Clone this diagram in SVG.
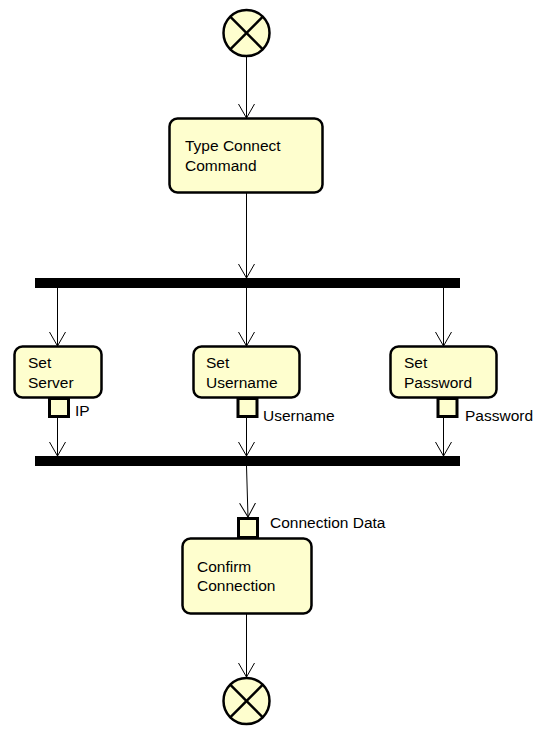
<svg xmlns="http://www.w3.org/2000/svg" width="539" height="735" viewBox="0 0 539 735">
<style>
.act{fill:#FEFECE;stroke:#000;stroke-width:2.5}
.pin{fill:#FEFECE;stroke:#000;stroke-width:3}
.bar{fill:#000}
.end{fill:#FEFECE;stroke:#000;stroke-width:2.5}
.x{stroke:#000;stroke-width:2.5}
.t{font-family:"Liberation Sans",Arial,sans-serif;font-size:15.5px;fill:#000}
.c{fill:none;stroke:#000;stroke-width:1}
</style>
<defs>
<marker id="arr" markerWidth="18" markerHeight="18" refX="14" refY="8" orient="auto" markerUnits="userSpaceOnUse">
<path d="M0,0 L14,8 L0,16" fill="none" stroke="#000" stroke-width="1"/>
</marker>
</defs>
<rect width="539" height="735" fill="#fff"/>
<g id="connectors">
<line class="c" x1="246.5" y1="57" x2="246.5" y2="118" marker-end="url(#arr)"/>
<line class="c" x1="246.5" y1="193" x2="246.5" y2="278" marker-end="url(#arr)"/>
<line class="c" x1="57.5" y1="288" x2="57.5" y2="346" marker-end="url(#arr)"/>
<line class="c" x1="246.5" y1="288" x2="246.5" y2="346" marker-end="url(#arr)"/>
<line class="c" x1="443.5" y1="288" x2="443.5" y2="346" marker-end="url(#arr)"/>
<line class="c" x1="57.5" y1="418" x2="57.5" y2="456" marker-end="url(#arr)"/>
<line class="c" x1="246.5" y1="418" x2="246.5" y2="456" marker-end="url(#arr)"/>
<line class="c" x1="443.5" y1="418" x2="443.5" y2="456" marker-end="url(#arr)"/>
<line class="c" x1="246.5" y1="466" x2="248" y2="517" marker-end="url(#arr)"/>
<line class="c" x1="246.5" y1="614" x2="246.5" y2="677" marker-end="url(#arr)"/>
</g>
<g id="start">
<circle class="end" cx="246.5" cy="33" r="23"/>
<line class="x" x1="230.2" y1="16.7" x2="262.8" y2="49.3"/>
<line class="x" x1="262.8" y1="16.7" x2="230.2" y2="49.3"/>
</g>
<g id="typeConnect">
<rect class="act" x="169.5" y="118.5" width="153" height="74" rx="8"/>
<text class="t" x="185" y="151">Type Connect</text>
<text class="t" x="185" y="171">Command</text>
</g>
<g id="fork"><rect class="bar" x="35" y="278" width="425" height="10"/></g>
<g id="setServer">
<rect class="act" x="14.5" y="346.5" width="87" height="51" rx="8"/>
<text class="t" x="28" y="368">Set</text>
<text class="t" x="28" y="388">Server</text>
<rect class="pin" x="49.5" y="398.5" width="19" height="18"/>
<text class="t" x="75" y="416">IP</text>
</g>
<g id="setUsername">
<rect class="act" x="193.5" y="346.5" width="106" height="51" rx="8"/>
<text class="t" x="206" y="368">Set</text>
<text class="t" x="206" y="388">Username</text>
<rect class="pin" x="238" y="398.5" width="19" height="18"/>
<text class="t" x="263" y="421">Username</text>
</g>
<g id="setPassword">
<rect class="act" x="390.5" y="346.5" width="106" height="51" rx="8"/>
<text class="t" x="404" y="368">Set</text>
<text class="t" x="404" y="388">Password</text>
<rect class="pin" x="438" y="398.5" width="19" height="18"/>
<text class="t" x="465" y="421">Password</text>
</g>
<g id="join"><rect class="bar" x="35" y="456" width="425" height="10"/></g>
<g id="confirm">
<rect class="pin" x="238.5" y="518.5" width="19" height="19"/>
<text class="t" x="270" y="528">Connection Data</text>
<rect class="act" x="182.5" y="538.5" width="129" height="75" rx="8"/>
<text class="t" x="197" y="572">Confirm</text>
<text class="t" x="197" y="591">Connection</text>
</g>
<g id="end">
<circle class="end" cx="246.5" cy="701" r="23"/>
<line class="x" x1="230.2" y1="684.7" x2="262.8" y2="717.3"/>
<line class="x" x1="262.8" y1="684.7" x2="230.2" y2="717.3"/>
</g>
</svg>
